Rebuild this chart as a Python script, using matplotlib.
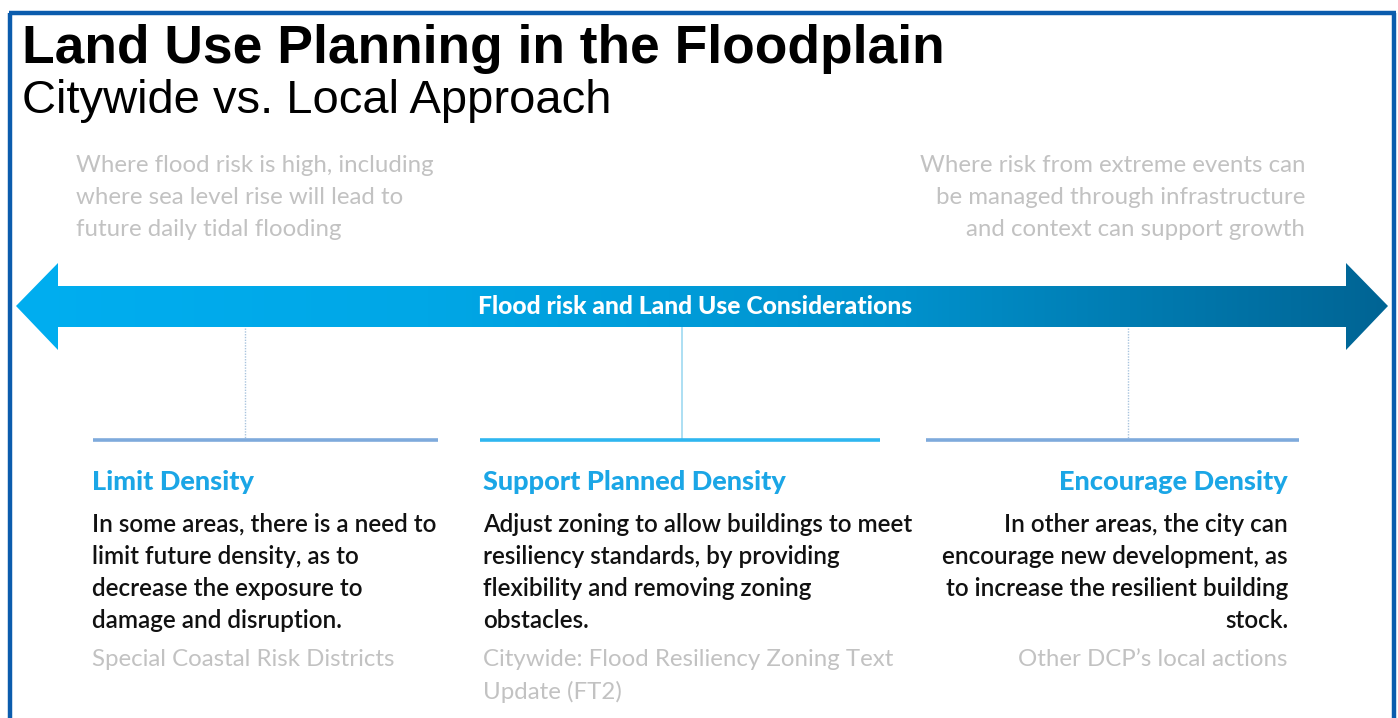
import matplotlib

matplotlib.use("Agg")

import matplotlib.pyplot as plt
import numpy as np
from matplotlib.colors import LinearSegmentedColormap
from matplotlib.patches import Polygon


TITLE = "Land Use Planning in the Floodplain"
SUBTITLE = "Citywide vs. Local Approach"
ARROW_LABEL = "Flood risk and Land Use Considerations"

LEFT_NOTE = [
    "Where flood risk is high, including",
    "where sea level rise will lead to",
    "future daily tidal flooding",
]
RIGHT_NOTE = [
    "Where risk from extreme events can",
    "be managed through infrastructure",
    "and context can support growth",
]

HEADINGS = ["Limit Density", "Support Planned Density", "Encourage Density"]
BODIES = [
    [
        "In some areas, there is a need to",
        "limit future density, as to",
        "decrease the exposure to",
        "damage and disruption.",
    ],
    [
        "Adjust zoning to allow buildings to meet",
        "resiliency standards, by providing",
        "flexibility and removing zoning",
        "obstacles.",
    ],
    [
        "In other areas, the city can",
        "encourage new development, as",
        "to increase the resilient building",
        "stock.",
    ],
]
SOURCES = [
    ["Special Coastal Risk Districts"],
    ["Citywide: Flood Resiliency Zoning Text", "Update (FT2)"],
    ["Other DCP\u2019s local actions"],
]

GEO_FONT = ["Lato", "DejaVu Sans"]
GRAY = "#c2c2c2"
HEAD_BLUE = "#1ba6e6"

# column layout: text anchor x, alignment, rule span, connector x, connector style
COLUMNS = [
    dict(x=92, ha="left", rule=(93, 438), link=245, rule_color="#7eaadc", link_style=":"),
    dict(x=483, ha="left", rule=(480, 880), link=682, rule_color="#2fb6f0", link_style="-"),
    dict(x=1288, ha="right", rule=(926, 1299), link=1128, rule_color="#7eaadc", link_style=":"),
]


fig = plt.figure(figsize=(13.98, 7.18), dpi=100)
ax = fig.add_axes([0, 0, 1, 1])
ax.set_xlim(0, 1398)
ax.set_ylim(718, 0)
ax.axis("off")

# blue frame (open at the bottom)
frame = "#0b5cad"
ax.plot([10, 10], [718, 13], color=frame, lw=3.2, solid_capstyle="butt")
ax.plot([8.5, 1395.5], [13, 13], color=frame, lw=3.2, solid_capstyle="butt")
ax.plot([1394, 1394], [13, 718], color=frame, lw=3.2, solid_capstyle="butt")

ax.text(22, 63, TITLE, fontsize=38.4, fontweight="bold", family="Liberation Sans",
        ha="left", va="baseline", color="black")
ax.text(22, 113, SUBTITLE, fontsize=33.9, family="Liberation Sans",
        ha="left", va="baseline", color="black")

for i, line in enumerate(LEFT_NOTE):
    ax.text(76, 165 + i * 32, line, fontsize=17.3, family=GEO_FONT,
            color=GRAY, ha="left", va="center")
for i, line in enumerate(RIGHT_NOTE):
    ax.text(1305, 165 + i * 32, line, fontsize=17.3, family=GEO_FONT,
            color=GRAY, ha="right", va="center")

# double-headed gradient arrow
arrow_xy = [
    (16, 306), (58, 263), (58, 286), (1346, 286), (1346, 263), (1388, 306),
    (1346, 350), (1346, 327), (58, 327), (58, 350),
]
arrow = Polygon(arrow_xy, closed=True, facecolor="none", edgecolor="none",
                transform=ax.transData)
ax.add_patch(arrow)
cmap = LinearSegmentedColormap.from_list(
    "flood", [(0, "#00aef0"), (0.3, "#00a7e6"), (0.65, "#0091cc"), (1, "#006494")]
)
grad = np.linspace(0, 1, 512).reshape(1, -1)
img = ax.imshow(grad, cmap=cmap, extent=(16, 1388, 350, 263), aspect="auto",
                interpolation="bilinear")
img.set_clip_path(arrow)
ax.set_xlim(0, 1398)
ax.set_ylim(718, 0)

ax.text(695, 307, ARROW_LABEL, fontsize=17.8, fontweight="black", family=GEO_FONT,
        color="white", ha="center", va="center")

for col, head, body, src in zip(COLUMNS, HEADINGS, BODIES, SOURCES):
    if col["link_style"] == ":":
        ax.plot([col["link"], col["link"]], [328, 440], color="#a9c4de",
                lw=1.0, ls=(0, (1, 1)))
    else:
        ax.plot([col["link"], col["link"]], [328, 440], color="#a6dcf2", lw=1.3)
    ax.plot(col["rule"], [440, 440], color=col["rule_color"], lw=2.6,
            solid_capstyle="butt")

    ax.text(col["x"], 482, head, fontsize=19.5, fontweight="black", family=GEO_FONT,
            color=HEAD_BLUE, ha=col["ha"], va="center")
    for i, line in enumerate(body):
        ax.text(col["x"], 524 + i * 32, line, fontsize=17.5, family=GEO_FONT,
                fontweight="semibold", color="#111111", ha=col["ha"], va="center")
    for i, line in enumerate(src):
        ax.text(col["x"], 660 + i * 32, line, fontsize=17.3, family=GEO_FONT,
                color=GRAY, ha=col["ha"], va="center")

fig.savefig("out.png", dpi=100, facecolor="white")
